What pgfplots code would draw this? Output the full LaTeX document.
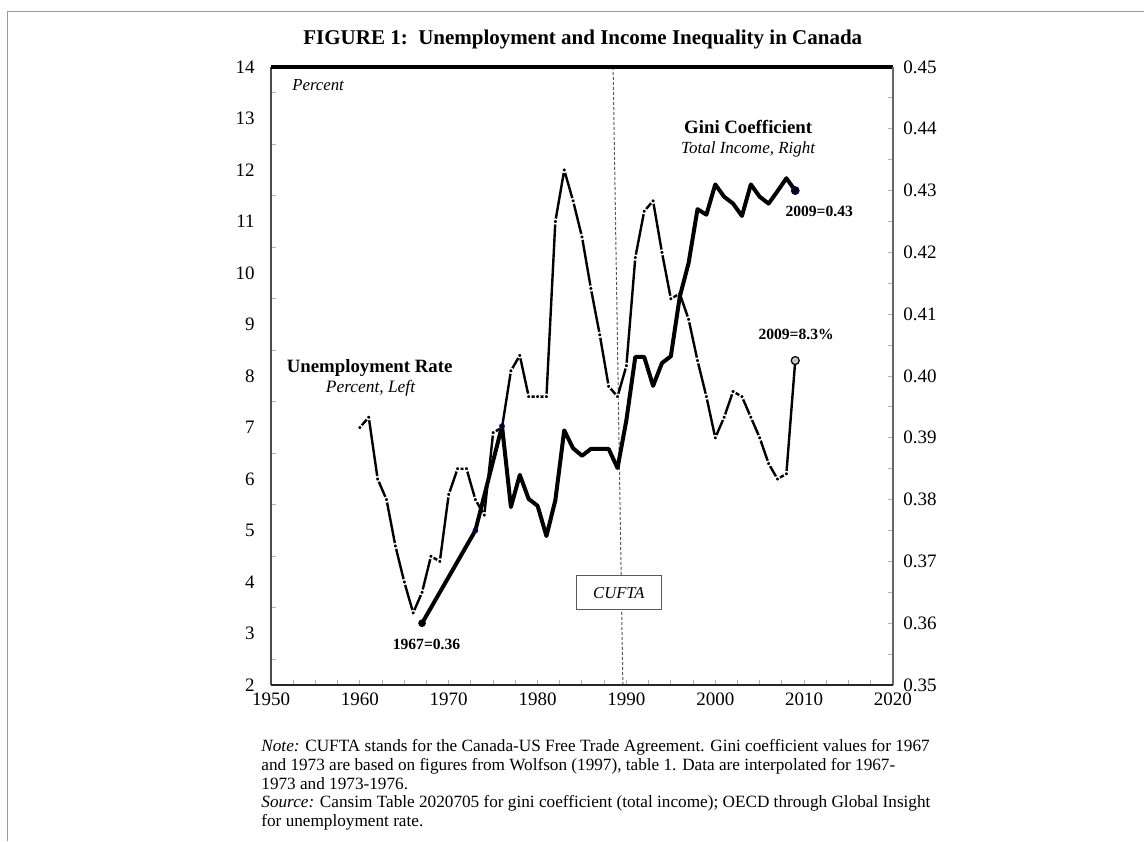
\documentclass[border=0pt]{standalone}
\usepackage{fontspec}
\setmainfont{Liberation Serif}
\usepackage{pgfplots}
\pgfplotsset{compat=1.18}

% unemployment rate, percent (left axis)
\pgfplotstableread{
year urate
1960 7.0
1961 7.2
1962 6.0
1963 5.6
1964 4.7
1965 4.0
1966 3.4
1967 3.8
1968 4.5
1969 4.4
1970 5.7
1971 6.2
1972 6.2
1973 5.6
1974 5.3
1975 6.9
1976 7.0
1977 8.1
1978 8.4
1979 7.6
1980 7.6
1981 7.6
1982 11.0
1983 12.0
1984 11.4
1985 10.7
1986 9.7
1987 8.8
1988 7.8
1989 7.6
1990 8.2
1991 10.3
1992 11.2
1993 11.4
1994 10.4
1995 9.5
1996 9.6
1997 9.1
1998 8.3
1999 7.6
2000 6.8
2001 7.2
2002 7.7
2003 7.6
2004 7.2
2005 6.8
2006 6.3
2007 6.0
2008 6.1
2009 8.3
}\unemp

% gini coefficient, total income (right axis)
\pgfplotstableread{
year gini
1967 0.3600
1973 0.3750
1976 0.3919
1977 0.3788
1978 0.3840
1979 0.3801
1980 0.3790
1981 0.3741
1982 0.3799
1983 0.3912
1984 0.3883
1985 0.3871
1986 0.3882
1987 0.3882
1988 0.3882
1989 0.3851
1990 0.3929
1991 0.4031
1992 0.4031
1993 0.3984
1994 0.4021
1995 0.4032
1996 0.4128
1997 0.4183
1998 0.4270
1999 0.4261
2000 0.4310
2001 0.4290
2002 0.4279
2003 0.4259
2004 0.4310
2005 0.4290
2006 0.4279
2007 0.4299
2008 0.4320
2009 0.4300
}\gini

\begin{document}
\begin{tikzpicture}
\path[use as bounding box] (0,0) rectangle (572pt,-420.5pt);
\draw[gray!80, line width=0.5pt] (3.65pt,-420.5pt) -- (3.65pt,-5.85pt) -- (572pt,-5.85pt);

\node[font=\fontsize{10.5}{12}\selectfont\bfseries, anchor=base]
  at (291.4pt,-22pt) {FIGURE 1:\ \ Unemployment and Income Inequality in Canada};

\begin{axis}[
  at={(135.5pt,-342.5pt)}, anchor=south west,
  scale only axis, width=311pt, height=309pt,
  xmin=1950, xmax=2020, ymin=2, ymax=14,
  xtick={1950,1960,...,2020}, minor x tick num=3,
  ytick={2,...,14}, minor y tick num=1,
  xtick pos=left, ytick pos=left,
  axis line style={draw=none},
  tick align=inside,
  major tick length=2.5pt, minor tick length=2.5pt,
  tick style={gray!60, line width=0.5pt},
  major y tick style={draw=none},
  ticklabel style={font=\fontsize{9.5}{11}\selectfont},
  /pgf/number format/assume math mode=true,
  /pgf/number format/1000 sep={},
  xticklabel style={inner sep=0pt, anchor=north, yshift=-3.5pt},
  yticklabel style={inner sep=0pt, anchor=east, xshift=-8pt},
  clip=false,
]
\draw[gray!70!black, line width=0.5pt, dash pattern=on 1.5pt off 1pt]
  (axis cs:1988.5,14) -- (axis cs:1989.6,2);

\addplot[black, line width=1.2pt, line join=round, mark=*, mark size=1.2pt,
         mark options={fill=black, draw=white, line width=0.7pt}]
  table[x=year, y=urate] {\unemp};
\addplot[only marks, mark=*, mark size=2pt,
         mark options={fill=gray!45, draw=black, line width=0.6pt}]
  coordinates {(2009,8.3)};

\node[font=\fontsize{8.4}{10}\selectfont\itshape, anchor=west] at (axis cs:1951.6,13.65) {Percent};
\node[font=\fontsize{9.4}{11}\selectfont\bfseries, anchor=base] at (axis cs:1961.1,8.06) {Unemployment Rate};
\node[font=\fontsize{8.7}{10}\selectfont\itshape, anchor=base] at (axis cs:1961.2,7.68) {Percent, Left};
\node[font=\fontsize{9.4}{11}\selectfont\bfseries, anchor=base] at (axis cs:2003.7,12.71) {Gini Coefficient};
\node[font=\fontsize{8.5}{10}\selectfont\itshape, anchor=base] at (axis cs:2003.7,12.32) {Total Income, Right};
\node[font=\fontsize{7.8}{9}\selectfont\bfseries, anchor=base] at (axis cs:2011.7,11.09) {2009=0.43};
\node[font=\fontsize{7.8}{9}\selectfont\bfseries, anchor=base] at (axis cs:2009.1,8.70) {2009=8.3\%};
\node[font=\fontsize{7.8}{9}\selectfont\bfseries, anchor=base] at (axis cs:1967.5,2.68) {1967=0.36};

\draw[fill=white, draw=gray!70!black, line width=0.5pt]
  (axis cs:1984.4,3.46) rectangle (axis cs:1993.9,4.12);
\node[font=\fontsize{8.3}{10}\selectfont\itshape] at (axis cs:1989.15,3.79) {CUFTA};
\end{axis}

\begin{axis}[
  at={(135.5pt,-342.5pt)}, anchor=south west,
  scale only axis, width=311pt, height=309pt,
  xmin=1950, xmax=2020, ymin=0.35, ymax=0.45,
  hide x axis,
  ytick={0.35,0.36,0.37,0.38,0.39,0.40,0.41,0.42,0.43,0.44,0.45},
  minor y tick num=1,
  ytick pos=right, yticklabel pos=right,
  axis line style={draw=none},
  tick align=inside,
  major tick length=2.5pt, minor tick length=2.5pt,
  tick style={gray!60, line width=0.5pt},
  ticklabel style={font=\fontsize{9.5}{11}\selectfont},
  yticklabel style={inner sep=0pt, anchor=west, xshift=5pt,
    /pgf/number format/.cd, fixed, fixed zerofill, precision=2, assume math mode=true},
  clip=false,
]
\addplot[black, line width=2pt, line join=round] table[x=year, y=gini] {\gini};
\addplot[only marks, mark=*, mark size=1.7pt, mark options={fill=black, draw=black}]
  coordinates {(1967,0.360)};
\addplot[only marks, mark=*, mark size=1.2pt,
         mark options={fill=black, draw=blue!55!black, line width=0.4pt}]
  coordinates {(1973,0.375) (1976,0.3919)};
\addplot[only marks, mark=*, mark size=2pt,
         mark options={fill=black, draw=blue!55!black, line width=0.4pt}]
  coordinates {(2009,0.430)};

% frame of the plot area
\draw[gray!60!black, line width=1.4pt] (rel axis cs:0,0) -- (rel axis cs:0,1);
\draw[black, line width=1.8pt] (rel axis cs:0,1) -- (rel axis cs:1,1);
\draw[gray!80!black, line width=1pt] (rel axis cs:1,1) -- (rel axis cs:1,0);
\draw[black!85, line width=1.3pt] (rel axis cs:0,0) -- (rel axis cs:1,0);
\end{axis}

\begin{scope}[font=\fontsize{8.6}{9.4}\selectfont]
\node[anchor=base west, inner sep=0pt] at (130.5pt,-375.8pt)
  {\textit{Note:} CUFTA stands for the Canada-US Free Trade Agreement. Gini coefficient values for 1967};
\node[anchor=base west, inner sep=0pt] at (130.5pt,-385.15pt)
  {and 1973 are based on figures from Wolfson (1997), table 1. Data are interpolated for 1967-};
\node[anchor=base west, inner sep=0pt] at (130.5pt,-394.5pt)
  {1973 and 1973-1976.};
\node[anchor=base west, inner sep=0pt] at (130.5pt,-403.85pt)
  {\textit{Source:} Cansim Table 2020705 for gini coefficient (total income); OECD through Global Insight};
\node[anchor=base west, inner sep=0pt] at (130.5pt,-413.2pt)
  {for unemployment rate.};
\end{scope}
\end{tikzpicture}
\end{document}
